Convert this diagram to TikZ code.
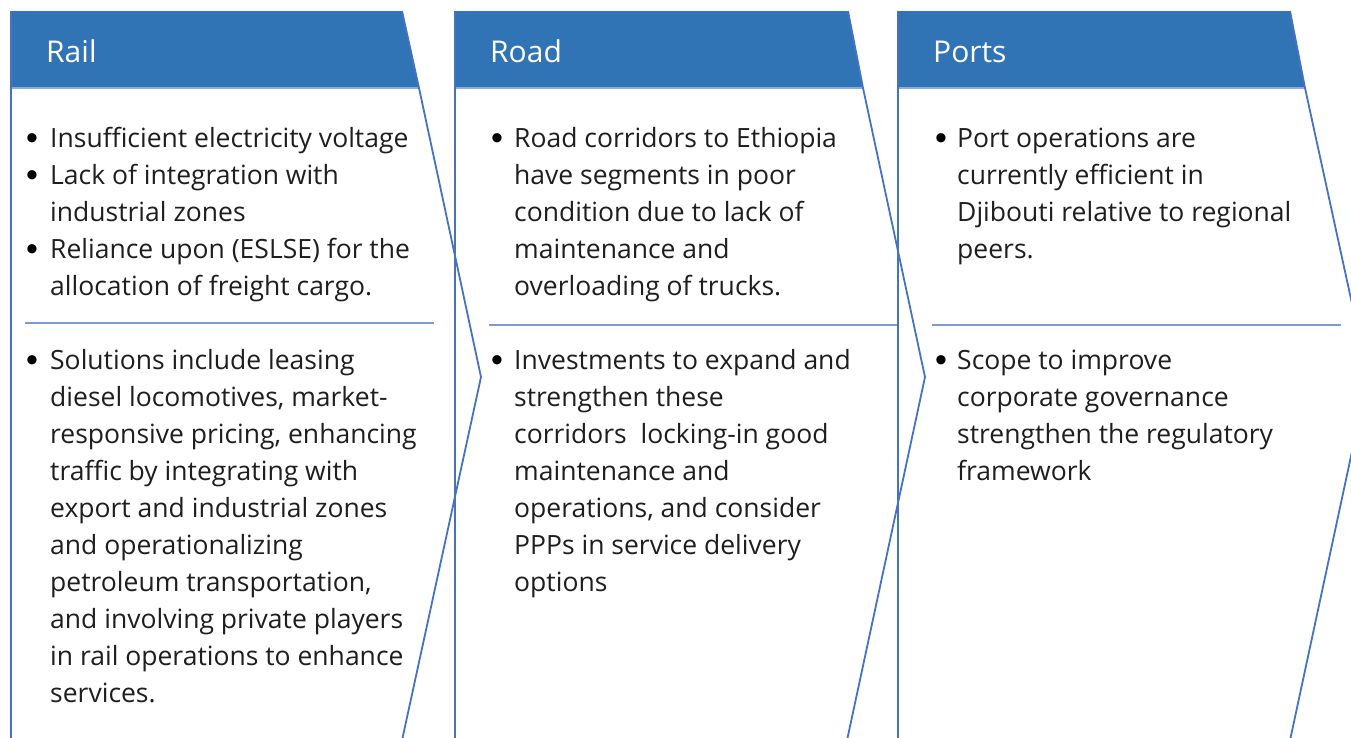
\documentclass[tikz,border=0pt]{standalone}
\usepackage{fontspec}
\setmainfont{Open Sans}
\newfontfamily\bulletfont{Liberation Sans}
\definecolor{hdrblue}{HTML}{3174B5}
\definecolor{lineblue}{HTML}{4472C4}
\definecolor{headrule}{HTML}{8FAADC}
\definecolor{seprule}{HTML}{7C9BD6}
\definecolor{bodytext}{HTML}{1E1E1E}
\tikzset{
  hdr/.style={fill=hdrblue, draw=none},
  outline/.style={draw=lineblue, line width=1.8pt, line join=miter},
  hrule/.style={draw=headrule, line width=1.5pt},
  sepline/.style={draw=seprule, line width=1.2pt},
  title/.style={anchor=base west, inner sep=0pt, text=white, font=\fontsize{30}{30}\selectfont},
  item/.style={anchor=base west, inner sep=0pt, text=bodytext, font=\fontsize{26.5}{37}\selectfont},
  dot/.style={anchor=base west, inner sep=0pt, text=black, font=\bulletfont\fontsize{34}{37}\selectfont},
}
\newcommand{\lines}[1]{\parbox[t]{460pt}{\raggedright #1}}
\begin{document}
\begin{tikzpicture}[x=1pt, y=-1pt]
  \useasboundingbox (0,0) rectangle (1351,737);
  \clip (0,0) rectangle (1351,737);

  % ---------- Rail ----------
  \fill[hdr] (11,11) -- (402,11) -- (419,88) -- (11,88) -- cycle;
  \draw[hrule] (11,88) -- (419,88);
  \draw[outline] (11,11) -- (11,745);
  \draw[outline] (402,11) -- (419,88) -- (481,377) -- (401,745);
  \draw[sepline] (25,323) -- (434,323);
  \node[title] (railT) at (46,62) {Rail};
  \node[dot] (railB1) at (26,149) {•};
  \node[item] (railI1) at (50,147) {\lines{Insufficient electricity voltage}};
  \node[dot] (railB2) at (26,186) {•};
  \node[item] (railI2) at (50,184) {\lines{Lack of integration with\\industrial zones}};
  \node[dot] (railB3) at (26,260) {•};
  \node[item] (railI3) at (50,258) {\lines{Reliance upon (ESLSE) for the\\allocation of freight cargo.}};
  \node[dot] (railB4) at (26,371) {•};
  \node[item] (railI4) at (50,369) {\lines{Solutions include leasing\\diesel locomotives, market-\\responsive pricing, enhancing\\traffic by integrating with\\export and industrial zones\\and operationalizing\\petroleum transportation,\\and involving private players\\in rail operations to enhance\\services.}};

  % ---------- Road ----------
  \fill[hdr] (455,11) -- (848,11) -- (863,88) -- (455,88) -- cycle;
  \draw[hrule] (455,88) -- (863,88);
  \draw[outline] (455,11) -- (455,745);
  \draw[outline] (848,11) -- (863,88) -- (925,377) -- (846,745);
  \draw[sepline] (489,325) -- (898,325);
  \node[title] (roadT) at (490,62) {Road};
  \node[dot] (roadB1) at (491,149) {•};
  \node[item] (roadI1) at (514,147) {\lines{Road corridors to Ethiopia\\have segments in poor\\condition due to lack of\\maintenance and\\overloading of trucks.}};
  \node[dot] (roadB2) at (491,371) {•};
  \node[item] (roadI2) at (514,369) {\lines{Investments to expand and\\strengthen these\\corridors\ \ locking-in good\\maintenance and\\operations, and consider\\PPPs in service delivery\\options}};

  % ---------- Ports ----------
  \fill[hdr] (898,11) -- (1290,11) -- (1305,88) -- (898,88) -- cycle;
  \draw[hrule] (898,88) -- (1305,88);
  \draw[outline] (898,11) -- (898,745);
  \draw[outline] (1290,11) -- (1305,88) -- (1368,377) -- (1289,745);
  \draw[sepline] (932,325) -- (1341,325);
  \node[title] (portT) at (933,62) {Ports};
  \node[dot] (portB1) at (935,149) {•};
  \node[item] (portI1) at (957,147) {\lines{Port operations are\\currently efficient in\\Djibouti relative to regional\\peers.}};
  \node[dot] (portB2) at (935,371) {•};
  \node[item] (portI2) at (957,369) {\lines{Scope to improve\\corporate governance\\strengthen the regulatory\\framework}};
\end{tikzpicture}
\end{document}
